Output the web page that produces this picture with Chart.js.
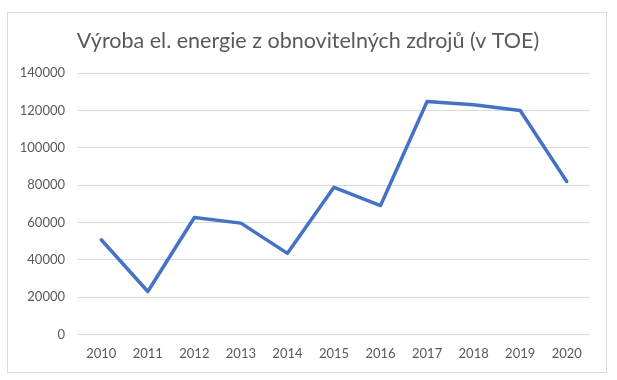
<!DOCTYPE html>
<html>
<head>
<meta charset="utf-8">
<script src="https://cdn.jsdelivr.net/npm/chart.js@4/dist/chart.umd.min.js"></script>
<style>
html,body{margin:0;padding:0;background:#fff;}
#wrap{position:absolute;left:0;top:0;width:617px;height:380px;}
</style>
</head>
<body>
<div id="wrap"><canvas id="c" width="617" height="380"></canvas></div>
<script>
const years = ['2010','2011','2012','2013','2014','2015','2016','2017','2018','2019','2020'];
const production = [50700, 23000, 62600, 59600, 43400, 78800, 69000, 124700, 123000, 119900, 81900];
const chartTitle = 'Výroba el. energie z obnovitelných zdrojů (v TOE)';

const frameAndTitle = {
  id: 'frameAndTitle',
  beforeDraw(chart) {
    const ctx = chart.ctx;
    ctx.save();
    ctx.fillStyle = '#ffffff';
    ctx.fillRect(0, 0, chart.width, chart.height);
    ctx.strokeStyle = '#d9d9d9';
    ctx.lineWidth = 1;
    ctx.strokeRect(7.5, 12.5, 599, 360);
    ctx.fillStyle = '#595959';
    ctx.font = '21.5px Lato';
    ctx.textAlign = 'center';
    ctx.textBaseline = 'middle';
    ctx.fillText(chartTitle, 308, 41);
    ctx.restore();
  }
};

new Chart(document.getElementById('c'), {
  type: 'line',
  data: {
    labels: years,
    datasets: [{
      data: production,
      borderColor: '#4472C4',
      borderWidth: 3.5,
      pointRadius: 0,
      pointHoverRadius: 0,
      tension: 0,
      fill: false,
      borderJoinStyle: 'round',
      borderCapStyle: 'round'
    }]
  },
  options: {
    responsive: false,
    animation: false,
    devicePixelRatio: 1,
    layout: { padding: { left: 0, right: 27, top: 73, bottom: 6 } },
    plugins: {
      legend: { display: false },
      tooltip: { enabled: false },
      title: { display: false }
    },
    scales: {
      x: {
        offset: true,
        grid: { display: false, drawTicks: false },
        border: { display: false },
        ticks: { color: '#595959', font: { family: 'Lato', size: 13 }, padding: 12, maxRotation: 0 }
      },
      y: {
        min: 0, max: 140000,
        afterFit(scale) { scale.width = 78; },
        grid: { color: '#d9d9d9', lineWidth: 1, drawTicks: false },
        border: { display: false },
        ticks: {
          stepSize: 20000, color: '#595959', font: { family: 'Lato', size: 13 }, padding: 13,
          callback: (v) => String(v)
        }
      }
    }
  },
  plugins: [frameAndTitle]
});
</script>
</body>
</html>
